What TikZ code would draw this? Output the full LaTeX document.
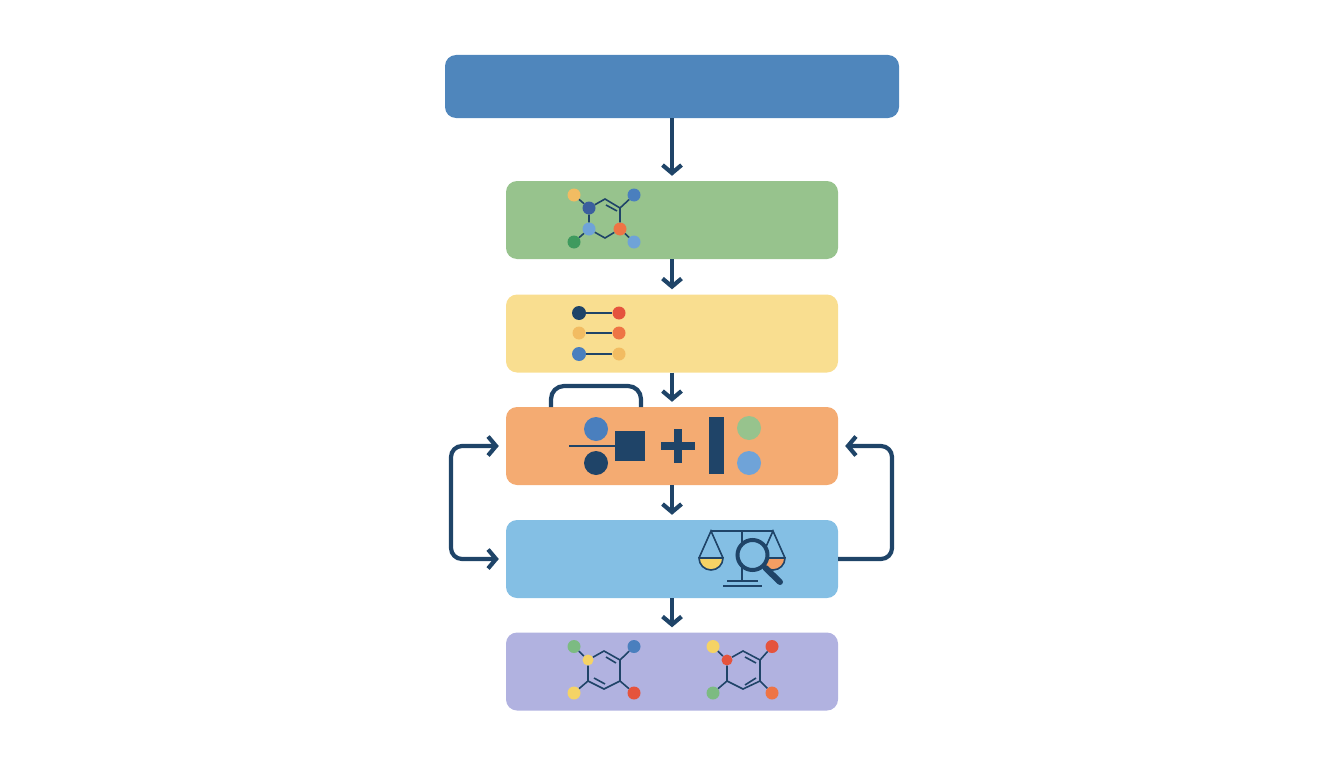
\documentclass[tikz,border=0pt]{standalone}
\usetikzlibrary{arrows.meta}
\definecolor{navy}{HTML}{1F4468}
\definecolor{topblue}{HTML}{4F86BC}
\definecolor{boxgreen}{HTML}{97C38D}
\definecolor{boxyellow}{HTML}{F9DE90}
\definecolor{boxorange}{HTML}{F4AB72}
\definecolor{boxblue}{HTML}{84BFE4}
\definecolor{boxpurple}{HTML}{B1B2E0}
\definecolor{atomamber}{HTML}{F2BC62}
\definecolor{atomdark}{HTML}{3B5F9E}
\definecolor{atomblue}{HTML}{4A7FBE}
\definecolor{atomsky}{HTML}{6FA3D8}
\definecolor{atomred}{HTML}{E5533D}
\definecolor{atomcoral}{HTML}{EE7445}
\definecolor{atomgreen}{HTML}{3F9A5E}
\definecolor{atomsage}{HTML}{7CBB82}
\definecolor{atomyellow}{HTML}{F5D365}
\tikzset{
	stepbox/.style={rectangle,rounded corners=11pt,inner sep=0pt,minimum width=332pt,minimum height=78pt},
	flow/.style={draw=navy,line width=4.2pt,-{Straight Barb[length=8pt,width=19pt]},shorten >=5pt},
	bond/.style={draw=navy,line width=1.6pt},
	atom/.style={circle,inner sep=0pt,minimum size=13pt},
	bigatom/.style={circle,inner sep=0pt,minimum size=24pt},
	solid shape/.style={rectangle,inner sep=0pt,fill=navy}
}
\begin{document}
\begin{tikzpicture}[x=1pt,y=-1pt]
	\useasboundingbox (0,0) rectangle (1344,768);
	
	% boxes
	\node[stepbox,fill=topblue,minimum width=454pt,minimum height=63pt] (source) at (672,86.5) {};
	\node[stepbox,fill=boxgreen] (graphs) at (672,220) {};
	\node[stepbox,fill=boxyellow] (pairs) at (672,333.5) {};
	\node[stepbox,fill=boxorange] (merge) at (672,446) {};
	\node[stepbox,fill=boxblue] (check) at (672,559) {};
	\node[stepbox,fill=boxpurple] (result) at (672,671.5) {};
	
	% arrows down
	\draw[flow] (source) -- (graphs);
	\draw[flow] (graphs) -- (pairs);
	\draw[flow] (pairs) -- (merge);
	\draw[flow] (merge) -- (check);
	\draw[flow] (check) -- (result);
	
	% loops
	\coordinate (topa) at (551,407);
	\coordinate (topb) at (551,386);
	\coordinate (topc) at (641,386);
	\coordinate (topd) at (641,407);
	\draw[navy,line width=4.2pt,rounded corners=13pt] (topa) -- (topb) -- (topc) -- (topd);
	
	\coordinate (lefta) at (451,446);
	\coordinate (leftb) at (451,559);
	\draw[flow,{Straight Barb[length=8pt,width=19pt]}-{Straight Barb[length=8pt,width=19pt]},shorten <=7pt,shorten >=7pt,rounded corners=11pt] (merge.west) -- (lefta) -- (leftb) -- (check.west);
	
	\coordinate (righta) at (892,559);
	\coordinate (rightb) at (892,446);
	\draw[flow,shorten >=7pt,rounded corners=11pt] (check.east) -- (righta) -- (rightb) -- (merge.east);
	
	% molecule in green box
	\node[atom,fill=atomdark] (ga) at (589,208) {};
	\coordinate (gb) at (605,199);
	\node[atom,inner sep=0pt,minimum size=0pt] (gc) at (620,208) {};
	\node[atom,fill=atomcoral] (gd) at (620,229) {};
	\coordinate (ge) at (605,238);
	\node[atom,fill=atomsky] (gf) at (589,229) {};
	\node[atom,fill=atomamber] (gg) at (574,195) {};
	\node[atom,fill=atomblue] (gh) at (634,195) {};
	\node[atom,fill=atomgreen] (gi) at (574,242) {};
	\node[atom,fill=atomsky] (gj) at (634,242) {};
	\draw[bond] (ga) -- (gb) -- (gc.center) -- (gd);
	\draw[bond] (gd) -- (ge) -- (gf) -- (ga);
	\draw[bond] (gg) -- (ga);
	\draw[bond] (gh) -- (gc.center);
	\draw[bond] (gi) -- (gf);
	\draw[bond] (gj) -- (gd);
	\coordinate (gk) at (606,205);
	\coordinate (gl) at (617,211);
	\draw[bond] (gk) -- (gl);
	
	% pairs in yellow box
	\node[atom,fill=navy,minimum size=14pt] (pa) at (579,313) {};
	\node[atom,fill=atomred] (pb) at (619,313) {};
	\node[atom,fill=atomamber] (pc) at (579,333) {};
	\node[atom,fill=atomcoral] (pd) at (619,333) {};
	\node[atom,fill=atomblue,minimum size=14pt] (pe) at (579,354) {};
	\node[atom,fill=atomamber] (pf) at (619,354) {};
	\draw[bond] (pa) -- (pb);
	\draw[bond] (pc) -- (pd);
	\draw[bond] (pe) -- (pf);
	
	% shapes in orange box
	\node[bigatom,fill=atomblue] (ma) at (596,429) {};
	\node[bigatom,fill=navy] (mb) at (596,463) {};
	\node[solid shape,minimum size=30pt] (mc) at (630,446) {};
	\coordinate (md) at (569,446);
	\draw[bond] (md) -- (mc);
	\node[solid shape,minimum width=34pt,minimum height=8pt] (me) at (678,446) {};
	\node[solid shape,minimum width=8pt,minimum height=34pt] (mf) at (678,446) {};
	\node[solid shape,minimum width=15pt,minimum height=57pt] (mg) at (716.5,445.5) {};
	\node[bigatom,fill=boxgreen] (mh) at (749,428) {};
	\node[bigatom,fill=atomsky] (mi) at (749,463) {};
	
	% scales and lens in blue box
	\coordinate (ca) at (711,531);
	\coordinate (cb) at (773,531);
	\coordinate (cc) at (742,531);
	\coordinate (cd) at (742,581);
	\coordinate (ce) at (699,558);
	\coordinate (cf) at (723,558);
	\coordinate (cg) at (761,558);
	\coordinate (ch) at (785,558);
	\coordinate (ci) at (727,581);
	\coordinate (cj) at (758,581);
	\coordinate (ck) at (723,586);
	\coordinate (cl) at (762,586);
	\draw[bond] (ce) -- (ca) -- (cf);
	\draw[bond] (cg) -- (cb) -- (ch);
	\draw[bond] (ca) -- (cb);
	\draw[bond] (cc) -- (cd);
	\draw[bond] (ci) -- (cj);
	\draw[bond] (ck) -- (cl);
	\draw[bond,fill=atomyellow] (ce) arc[start angle=180,end angle=360,radius=12,y radius=-12] -- cycle;
	\draw[bond,fill=atomcoral!60!boxyellow] (cg) arc[start angle=180,end angle=360,radius=12,y radius=-12] -- cycle;
	\node[circle,draw=navy,fill=boxblue,line width=4pt,minimum size=30pt,inner sep=0pt] (lens) at (752.5,555) {};
	\coordinate (cm) at (780,582);
	\draw[navy,line width=6pt,line cap=round] (lens) ++(13,13) -- (cm);
	
	% left molecule in purple box
	\node[atom,fill=atomyellow,minimum size=11pt] (ra) at (588,660) {};
	\coordinate (rb) at (604,651);
	\coordinate (rc) at (620,660);
	\coordinate (rd) at (620,681);
	\coordinate (re) at (604,689);
	\coordinate (rf) at (588,681);
	\node[atom,fill=atomsage] (rg) at (574,646.5) {};
	\node[atom,fill=atomblue] (rh) at (634,646.5) {};
	\node[atom,fill=atomyellow] (ri) at (574,693) {};
	\node[atom,fill=atomred] (rj) at (634,693) {};
	\draw[bond] (ra) -- (rb) -- (rc) -- (rd) -- (re) -- (rf) -- (ra);
	\draw[bond] (rg) -- (ra);
	\draw[bond] (rh) -- (rc);
	\draw[bond] (ri) -- (rf);
	\draw[bond] (rj) -- (rd);
	\coordinate (rk) at (606,657);
	\coordinate (rl) at (616,663);
	\coordinate (rm) at (594,678);
	\coordinate (rn) at (605,684);
	\draw[bond] (rk) -- (rl);
	\draw[bond] (rm) -- (rn);
	
	% right molecule in purple box
	\node[atom,fill=atomred,minimum size=11pt] (sa) at (727,660) {};
	\coordinate (sb) at (743,651);
	\coordinate (sc) at (760,660);
	\coordinate (sd) at (760,681);
	\coordinate (se) at (743,689);
	\coordinate (sf) at (727,681);
	\node[atom,fill=atomyellow] (sg) at (713,646.5) {};
	\node[atom,fill=atomred] (sh) at (772,646.5) {};
	\node[atom,fill=atomsage] (si) at (713,693) {};
	\node[atom,fill=atomcoral] (sj) at (772,693) {};
	\draw[bond] (sa) -- (sb) -- (sc) -- (sd) -- (se) -- (sf) -- (sa);
	\draw[bond] (sg) -- (sa);
	\draw[bond] (sh) -- (sc);
	\draw[bond] (si) -- (sf);
	\draw[bond] (sj) -- (sd);
	\coordinate (sk) at (745,657);
	\coordinate (sl) at (756,663);
	\coordinate (sm) at (745,685);
	\coordinate (sn) at (756,678);
	\draw[bond] (sk) -- (sl);
	\draw[bond] (sm) -- (sn);
	
\end{tikzpicture}
\end{document}
